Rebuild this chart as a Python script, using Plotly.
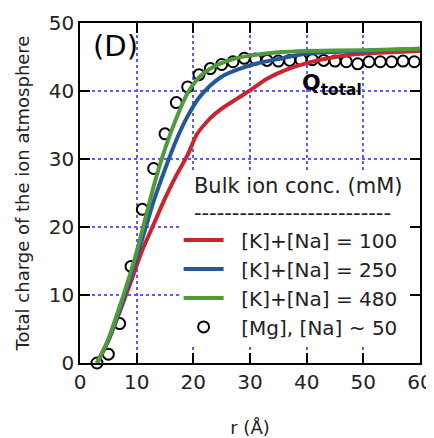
import plotly.graph_objects as go

# Data (r in Angstrom, total charge of the ion atmosphere)
r_100 = [3, 5, 7, 9, 11, 13, 15, 17, 19, 20.6, 23, 25, 27.6, 30, 33, 36, 40, 45, 50, 55, 60]
q_100 = [0, 3.3, 7.5, 12, 16.6, 20.4, 24.2, 27.6, 30.6, 33.6, 36, 37.4, 38.8, 40.1, 41.8, 43, 44.1, 45, 45.5, 45.7, 45.9]

r_250 = [3, 5, 7, 9, 11, 13, 15, 17, 19, 21, 23, 25, 28, 31, 35, 40, 50, 60]
q_250 = [0, 3.3, 7.8, 12.8, 18.3, 23.8, 28.5, 32.8, 36.3, 39, 40.8, 42.1, 43.2, 44, 44.7, 45.5, 45.9, 46.2]

r_480 = [3, 5, 7, 9, 11, 13, 15, 17, 19, 21, 23, 25, 27, 30, 35, 40, 50, 60]
q_480 = [0, 3.5, 8.3, 13.5, 19.5, 26, 31.5, 36, 39.7, 42, 43.3, 44.1, 44.7, 45.2, 45.7, 45.9, 46, 46.2]

r_mg = [3, 5, 7, 9, 11, 13, 15, 17, 19, 21, 23, 25, 27, 29, 31, 33, 35, 37, 39, 41,
        43, 45, 47, 49, 51, 53, 55, 57, 59]
q_mg = [0, 1.3, 5.8, 14.2, 22.6, 28.6, 33.7, 38.3, 40.6, 42.4, 43.3, 43.9, 44.3, 44.8, 44.7, 44.5,
        44.4, 44.5, 44.6, 44.6, 44.5, 44.4, 44.3, 44.0, 44.3, 44.3, 44.3, 44.4, 44.3]

line_series = [
    ("[K]+[Na] = 100", r_100, q_100, "#c9252c"),
    ("[K]+[Na] = 250", r_250, q_250, "#25589a"),
    ("[K]+[Na] = 480", r_480, q_480, "#4f9a3a"),
]

FONT = "DejaVu Sans, sans-serif"
TEXT = "#222222"
GRID = "#5b5bff"
PAD = "\u00a0\u00a0"  # pushes legend text away from the symbol

fig = go.Figure()

# open circles first so the lines sit on top of them
fig.add_trace(
    go.Scatter(
        x=r_mg,
        y=q_mg,
        mode="markers",
        name=PAD + "[Mg], [Na] ~ 50",
        legendrank=4,
        cliponaxis=False,
        marker=dict(symbol="circle-open", size=11, color="black", line=dict(width=2)),
    )
)

for rank, (label, xs, ys, color) in enumerate(line_series, start=1):
    fig.add_trace(
        go.Scatter(
            x=xs,
            y=ys,
            mode="lines",
            name=PAD + label,
            legendrank=rank,
            line=dict(color=color, width=4, shape="spline", smoothing=0.6),
        )
    )

# white patch behind the legend, hides the grid but not the ticks
fig.add_shape(
    type="rect", xref="x", yref="y", x0=18, x1=60, y0=2.7, y1=28.2,
    fillcolor="white", line=dict(width=0), layer="between",
)

fig.add_annotation(
    x=2.0, y=46.6, xref="x", yref="y", xanchor="left", yanchor="middle",
    text="(D)", showarrow=False, font=dict(family=FONT, size=29, color="black"),
)
fig.add_annotation(
    x=38.8, y=41.0, xref="x", yref="y", xanchor="left", yanchor="middle",
    text="<b>Q<sub>total</sub></b>", showarrow=False,
    font=dict(family=FONT, size=22, color="black"),
)

axis_common = dict(
    showline=True,
    linecolor="black",
    linewidth=1.5,
    mirror="ticks",
    ticks="inside",
    ticklen=10,
    tickwidth=1.5,
    tickcolor="black",
    dtick=10,
    showgrid=True,
    gridcolor=GRID,
    griddash="dot",
    gridwidth=1.5,
    zeroline=False,
    automargin=False,
    tickfont=dict(family=FONT, size=20, color=TEXT),
)

fig.update_xaxes(
    range=[0, 60],
    title=dict(text="r (Å)", font=dict(family=FONT, size=18, color=TEXT), standoff=30),
    **axis_common,
)
fig.update_yaxes(
    range=[0, 50],
    title=dict(
        text="Total charge of the ion atmosphere",
        font=dict(family=FONT, size=18, color=TEXT),
        standoff=14,
    ),
    **axis_common,
)

# page body has an 8px margin, so the figure is sized/offset for that
fig.update_layout(
    width=426,
    height=430,
    margin=dict(l=72, r=14, t=15, b=74.5),
    plot_bgcolor="white",
    paper_bgcolor="white",
    legend=dict(
        x=0.29,
        y=0.58,
        xanchor="left",
        yanchor="top",
        bgcolor="rgba(0,0,0,0)",
        itemwidth=40,
        font=dict(family=FONT, size=20, color=TEXT),
        title=dict(
            text="\u00a0\u00a0Bulk ion conc. (mM)<br>\u00a0\u00a0" + "-" * 26,
            font=dict(family=FONT, size=21, color=TEXT),
        ),
    ),
)

fig.write_html("out.html")
